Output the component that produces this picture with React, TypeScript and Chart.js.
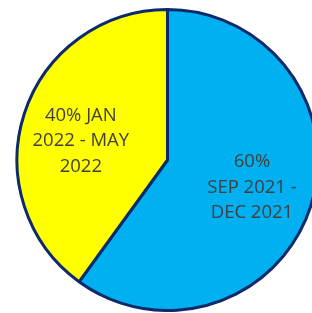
import React, { useEffect, useRef } from "react";
import { Chart, registerables } from "chart.js";

Chart.register(...registerables);

const categories = ["SEP 2021 - DEC 2021", "JAN 2022 - MAY 2022"];
const values = [60, 40];
const colors = ["#00B0F0", "#FFFF00"];
const labelLines = [
  ["60%", "SEP 2021 -", "DEC 2021"],
  ["40% JAN", "2022 - MAY", "2022"],
];
// label anchor: fraction of radius and angle shift (degrees) from slice mid-angle
const labelRadiusFrac = [0.59, 0.59];
const labelAngleShift = [0, -5.5];

const labelPlugin = {
  id: "sliceLabels",
  afterDatasetsDraw(chart: any) {
    const ctx = chart.ctx;
    const meta = chart.getDatasetMeta(0);
    ctx.save();
    ctx.fillStyle = "#404040";
    ctx.font = '18.5px "Open Sans"';
    ctx.textAlign = "center";
    ctx.textBaseline = "middle";
    meta.data.forEach((arc: any, i: number) => {
      const p = arc.getProps(["x", "y", "startAngle", "endAngle", "outerRadius"], true);
      const mid = (p.startAngle + p.endAngle) / 2 + (labelAngleShift[i] * Math.PI) / 180;
      const r = p.outerRadius * labelRadiusFrac[i];
      const cx = p.x + Math.cos(mid) * r;
      const cy = p.y + Math.sin(mid) * r;
      const lines = labelLines[i];
      const lh = 25.5;
      lines.forEach((t, k) => {
        ctx.fillText(t, cx, cy + (k - (lines.length - 1) / 2) * lh);
      });
    });
    ctx.restore();
  },
};

export default function App() {
  const ref = useRef<HTMLCanvasElement | null>(null);
  useEffect(() => {
    if (!ref.current) return;
    const chart = new Chart(ref.current, {
      type: "pie",
      data: {
        labels: categories,
        datasets: [
          {
            data: values,
            backgroundColor: colors,
            borderColor: "#0D2A6B",
            borderWidth: 3,
            borderAlign: "center",
          } as any,
        ],
      },
      options: {
        animation: false,
        responsive: false,
        maintainAspectRatio: false,
        layout: { padding: 0 },
        plugins: {
          legend: { display: false },
          tooltip: { enabled: false },
          title: { display: false },
        },
      },
      plugins: [labelPlugin],
    });
    return () => chart.destroy();
  }, []);
  return (
    <div
      style={{
        position: "fixed",
        left: 0,
        top: 0,
        width: 312,
        height: 313,
        overflow: "hidden",
        background: "#fff",
      }}
    >
      <div style={{ position: "absolute", left: 0, top: 8, width: 335, height: 304 }}>
        <canvas ref={ref} width={335} height={304} style={{ width: 335, height: 304 }} />
      </div>
    </div>
  );
}
